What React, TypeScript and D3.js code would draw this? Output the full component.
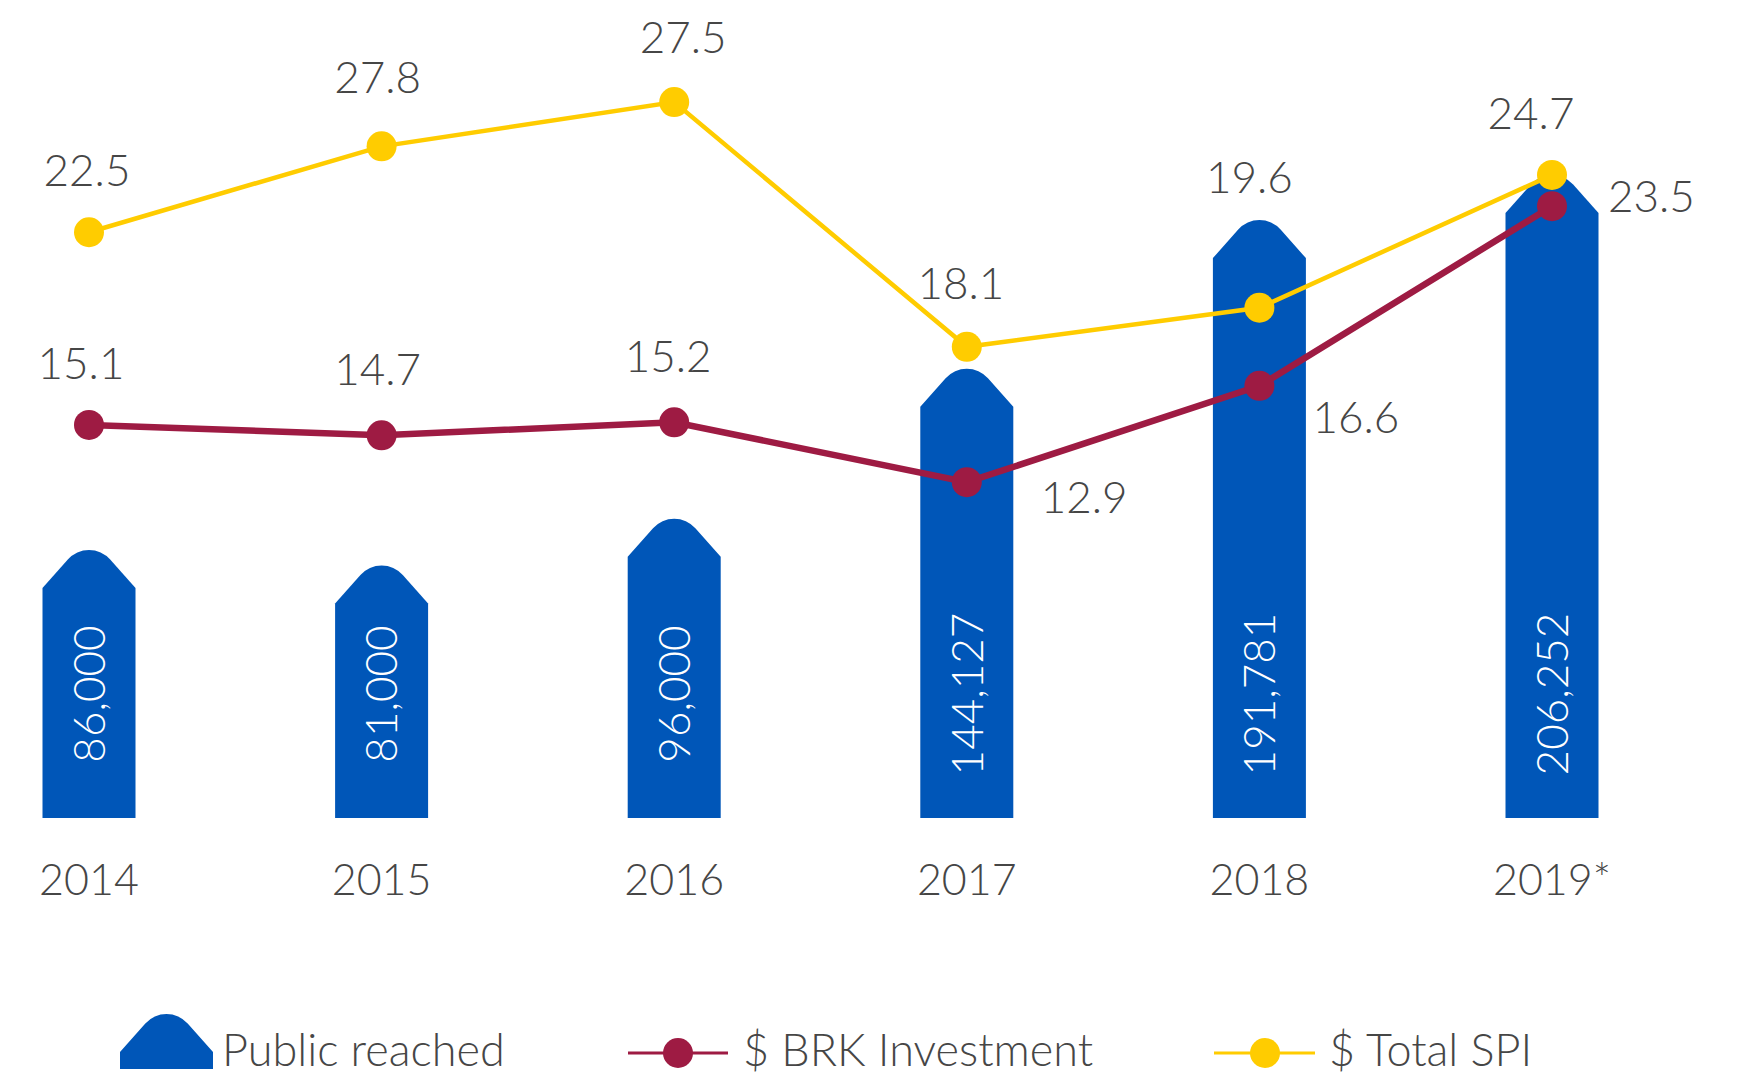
import React, { useEffect } from 'react';
import * as d3 from 'd3';

const years = ['2014', '2015', '2016', '2017', '2018', '2019*'];
const publicReached = [86000, 81000, 96000, 144127, 191781, 206252];
const brkInvestment = [15.1, 14.7, 15.2, 12.9, 16.6, 23.5];
// the 2015 SPI dot sits lower in the source than its "27.8" label says
const totalSpi = [22.5, 25.8, 27.5, 18.1, 19.6, 24.7];
const totalSpiLabels = ['22.5', '27.8', '27.5', '18.1', '19.6', '24.7'];
const brkLabels = ['15.1', '14.7', '15.2', '12.9', '16.6', '23.5'];

const W = 1743;
const H = 1075;
const BASE = 818;
const BLUE = '#0056B8';
const YELLOW = '#FFCC00';
const CRIMSON = '#9E1B43';
const TEXT = '#464646';
const FONT = 'Lato, "Open Sans", sans-serif';

// label placement (dx from point, dy to baseline, anchor)
const spiLabelPos: [number, number, string][] = [
  [-2, -46, 'middle'], [-4, -53, 'middle'], [9, -49, 'middle'],
  [-6, -48, 'middle'], [-10, -115, 'middle'], [-21, -46, 'middle'],
];
const brkLabelPos: [number, number, string][] = [
  [-8, -46, 'middle'], [-4, -50, 'middle'], [-6, -50, 'middle'],
  [74, 31, 'start'], [53, 47, 'start'], [56, 6, 'start'],
];

// rectangle with a rounded "house" top
const barPath = (cx: number, top: number, bottom: number) => {
  const hw = 46.5, drop = 38, slope = 1.125;
  const peak = hw * slope;
  const sy = top + drop;
  const ay = sy - peak;
  const half = Math.atan(1 / slope);
  const r = (peak - drop) / (1 / Math.sin(half) - 1);
  const t = r / Math.tan(half);
  const ang = Math.atan(slope);
  const tx = t * Math.cos(ang), ty = t * Math.sin(ang);
  return `M${cx - hw},${bottom}L${cx - hw},${sy}L${cx - tx},${ay + ty}` +
    `A${r},${r} 0 0 1 ${cx + tx},${ay + ty}L${cx + hw},${sy}L${cx + hw},${bottom}Z`;
};

const App = () => {
  useEffect(() => {
    document.body.style.margin = '0';
  }, []);

  const x = d3.scalePoint<string>().domain(years).range([89, 1552]);
  const yBar = d3.scaleLinear().domain([0, 206252]).range([BASE, 175]);
  const yLine = d3.scaleLinear().domain([0, 30]).range([BASE, 37]);
  const fmt = d3.format(',');

  const lineGen = d3.line<number>()
    .x((d, i) => x(years[i]) as number)
    .y(d => yLine(d));

  return (
    <svg width={W} height={H} style={{ position: 'absolute', left: 0, top: 0, background: '#fff' }}
      fontFamily={FONT}>
      {publicReached.map((v, i) => (
        <path key={'b' + i} d={barPath(x(years[i]) as number, yBar(v), BASE)} fill={BLUE} />
      ))}
      {publicReached.map((v, i) => (
        <text key={'bl' + i} transform={`translate(${x(years[i])},694) rotate(-90)`}
          textAnchor="middle" dy="0.36em" fill="#fff" fontSize={44} fontWeight={300}>
          {fmt(v)}
        </text>
      ))}

      <path d={lineGen(brkInvestment) as string} fill="none" stroke={CRIMSON} strokeWidth={6.5} />
      {brkInvestment.map((v, i) => (
        <circle key={'c' + i} cx={x(years[i])} cy={yLine(v)} r={15} fill={CRIMSON} />
      ))}
      <path d={lineGen(totalSpi) as string} fill="none" stroke={YELLOW} strokeWidth={4.5} />
      {totalSpi.map((v, i) => (
        <circle key={'y' + i} cx={x(years[i])} cy={yLine(v)} r={15} fill={YELLOW} />
      ))}

      {totalSpi.map((v, i) => (
        <text key={'yl' + i} x={(x(years[i]) as number) + spiLabelPos[i][0]} y={yLine(v) + spiLabelPos[i][1]}
          textAnchor={spiLabelPos[i][2]} fill={TEXT} fontSize={44} fontWeight={300}>
          {totalSpiLabels[i]}
        </text>
      ))}
      {brkInvestment.map((v, i) => (
        <text key={'cl' + i} x={(x(years[i]) as number) + brkLabelPos[i][0]} y={yLine(v) + brkLabelPos[i][1]}
          textAnchor={brkLabelPos[i][2]} fill={TEXT} fontSize={44} fontWeight={300}>
          {brkLabels[i]}
        </text>
      ))}

      {years.map((yr, i) => (
        <text key={'x' + i} x={x(yr)} y={895} textAnchor="middle" fill={TEXT} fontSize={43} fontWeight={300}>
          {yr}
        </text>
      ))}

      {/* legend */}
      <path d={barPath(166.5, 1014, 1069)} fill={BLUE} />
      <text x={222} y={1066} fill={TEXT} fontSize={45} fontWeight={300}>Public reached</text>
      <line x1={628} x2={728} y1={1053} y2={1053} stroke={CRIMSON} strokeWidth={3} />
      <circle cx={678} cy={1053} r={15} fill={CRIMSON} />
      <text x={743} y={1066} fill={TEXT} fontSize={45} fontWeight={300}>$ BRK Investment</text>
      <line x1={1214} x2={1315} y1={1053} y2={1053} stroke={YELLOW} strokeWidth={3} />
      <circle cx={1265} cy={1053} r={15} fill={YELLOW} />
      <text x={1329} y={1066} fill={TEXT} fontSize={45} fontWeight={300}>$ Total SPI</text>
    </svg>
  );
};

export default App;
